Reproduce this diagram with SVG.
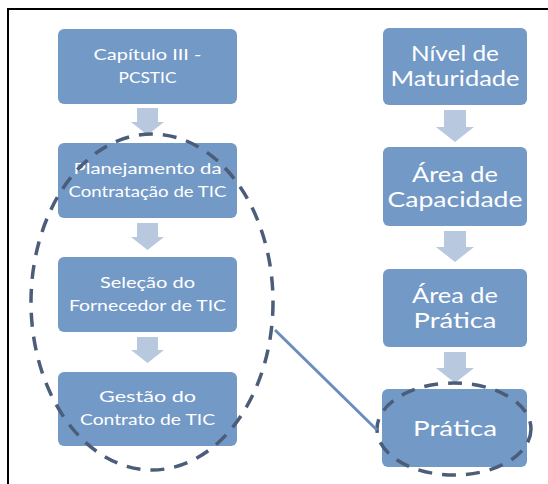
<svg xmlns="http://www.w3.org/2000/svg" width="548" height="484" viewBox="0 0 548 484">
<style>
.box{fill:#7399c6;}
.arr{fill:#b8c8df;}
.t{font-family:Lato,"Open Sans","Liberation Sans",sans-serif;fill:#ffffff;text-anchor:middle;}
.s{font-size:16px;}
.l{font-size:20.5px;}
.dash{fill:none;stroke:#4b5d78;stroke-width:3.5;stroke-dasharray:14 10;}
.link{fill:none;stroke:#6a8dbf;stroke-width:3;}
</style>
<rect x="0" y="0" width="548" height="484" fill="#ffffff"/>
<path d="M8 484 V9 H548" fill="none" stroke="#000000" stroke-width="2"/>
<g id="n1"><rect class="box" x="58" y="29" width="179" height="75" rx="6"/>
<text class="t s" x="147.5" y="60" textLength="108" lengthAdjust="spacingAndGlyphs">Capítulo III -</text>
<text class="t s" x="147.5" y="83" textLength="58" lengthAdjust="spacingAndGlyphs">PCSTIC</text></g>
<g id="n2"><rect class="box" x="58" y="143" width="179" height="75" rx="6"/>
<text class="t s" x="147.5" y="174" textLength="148" lengthAdjust="spacingAndGlyphs">Planejamento da</text>
<text class="t s" x="147.5" y="197" textLength="158" lengthAdjust="spacingAndGlyphs">Contratação de TIC</text></g>
<g id="n3"><rect class="box" x="58" y="257" width="179" height="75" rx="6"/>
<text class="t s" x="147.5" y="288" textLength="95" lengthAdjust="spacingAndGlyphs">Seleção do</text>
<text class="t s" x="147.5" y="311" textLength="157" lengthAdjust="spacingAndGlyphs">Fornecedor de TIC</text></g>
<g id="n4"><rect class="box" x="58" y="372" width="179" height="74" rx="6"/>
<text class="t s" x="147.5" y="402" textLength="97" lengthAdjust="spacingAndGlyphs">Gestão do</text>
<text class="t s" x="147.5" y="425" textLength="135" lengthAdjust="spacingAndGlyphs">Contrato de TIC</text></g>
<g id="n5"><rect class="box" x="383" y="28" width="144" height="77" rx="6"/>
<text class="t l" x="455" y="61" textLength="88" lengthAdjust="spacingAndGlyphs">Nível de</text>
<text class="t l" x="455" y="86" textLength="129" lengthAdjust="spacingAndGlyphs">Maturidade</text></g>
<g id="n6"><rect class="box" x="383" y="147" width="144" height="79" rx="6"/>
<text class="t l" x="455" y="182" textLength="86" lengthAdjust="spacingAndGlyphs">Área de</text>
<text class="t l" x="455" y="207" textLength="135" lengthAdjust="spacingAndGlyphs">Capacidade</text></g>
<g id="n7"><rect class="box" x="383" y="269" width="144" height="78" rx="6"/>
<text class="t l" x="455" y="303" textLength="86" lengthAdjust="spacingAndGlyphs">Área de</text>
<text class="t l" x="455" y="328" textLength="83" lengthAdjust="spacingAndGlyphs">Prática</text></g>
<g id="n8"><rect class="box" x="382" y="389" width="145" height="78" rx="6"/>
<text class="t l" x="455" y="436" textLength="84" lengthAdjust="spacingAndGlyphs">Prática</text></g>
<g id="connectors">
<polygon class="arr" points="137,108 158,108 158,122 164,122 147.5,135 131,122 137,122"/>
<polygon class="arr" points="137,223 158,223 158,237 164,237 147.5,250 131,237 137,237"/>
<polygon class="arr" points="137,337 158,337 158,350 164,350 147.5,363 131,350 137,350"/>
<polygon class="arr" points="444,110 466,110 466,127 474,127 455,142 436,127 444,127"/>
<polygon class="arr" points="444,231 466,231 466,247 474,247 455,262 436,247 444,247"/>
<polygon class="arr" points="444,352 466,352 466,368 474,368 455,383 436,368 444,368"/>
<ellipse class="dash" cx="152" cy="302" rx="121" ry="168"/>
<ellipse class="dash" cx="454" cy="429" rx="77" ry="46"/>
<line class="link" x1="275" y1="330" x2="377" y2="430"/>
</g>
</svg>
